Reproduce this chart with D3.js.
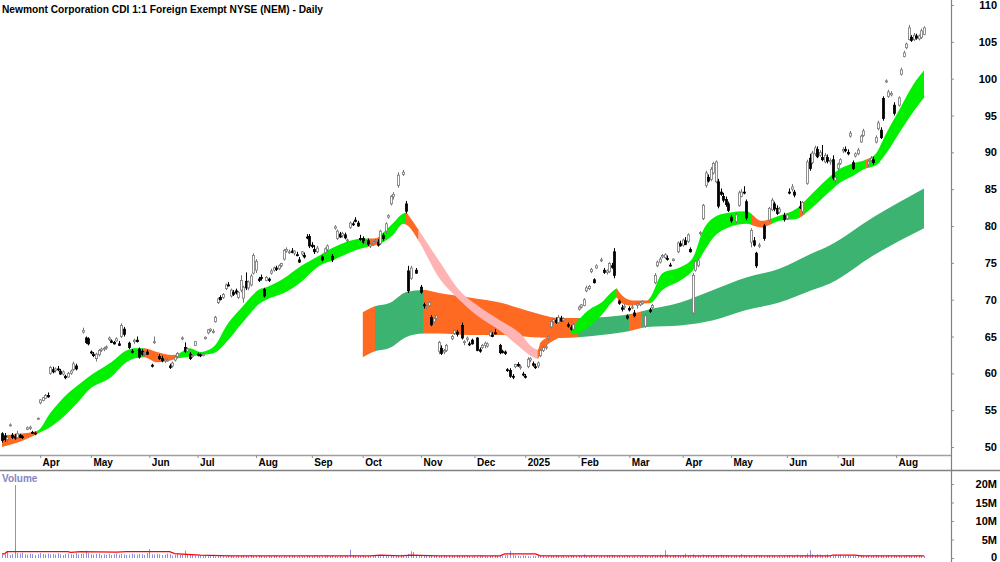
<!DOCTYPE html>
<html>
<head>
<meta charset="utf-8">
<script src="https://cdn.jsdelivr.net/npm/d3@7"></script>
<style>
  body { margin: 0; background: #fff; }
  svg { display: block; font-family: "Liberation Sans", Arial, sans-serif; }
</style>
</head>
<body>
<svg id="chart" width="1000" height="562"></svg>
<script>
const WIDTH = 1000;
const HEIGHT = 562;
const AXIS_X = 951;

const title = "Newmont Corporation CDI 1:1 Foreign Exempt NYSE (NEM) - Daily";

// month labels and the trading-day index where each month starts
const monthLabels = ["Apr", "May", "Jun", "Jul", "Aug", "Sep", "Oct", "Nov", "Dec", "2025", "Feb", "Mar", "Apr", "May", "Jun", "Jul", "Aug"];
const monthIdx = [15, 35, 58, 77, 100, 122, 142, 165, 186, 206, 227, 247, 268, 287, 309, 329, 352];

const priceTicks = [50, 55, 60, 65, 70, 75, 80, 85, 90, 95, 100, 105, 110];
const volTicks = [0, 5, 10, 15, 20];
const volTickLabels = ["0", "5M", "10M", "15M", "20M"];

// daily candles: [day, open, high, low, close]
const candles = [
  [0,51.8,52.0,50.6,50.9],[1,51.5,51.9,50.7,51.0],[2,51.0,51.4,50.6,51.3],[3,52.9,53.2,52.8,53.0],
  [4,51.6,51.9,51.1,51.3],[5,51.4,51.8,51.0,51.2],[6,51.3,52.2,51.1,51.8],[7,51.6,51.8,51.2,51.3],
  [8,51.4,51.6,51.1,51.3],[10,52.4,52.8,52.3,52.6],[11,52.5,52.9,52.3,52.7],[12,52.0,52.2,51.8,51.9],
  [13,51.9,52.1,51.6,51.8],[14,53.8,54.0,53.7,53.9],[15,56.0,56.5,55.8,56.4],[16,56.3,56.8,56.2,56.7],
  [17,56.6,57.2,56.5,57.0],[18,57.0,57.4,56.7,56.8],[19,60.0,61.0,59.8,60.8],[20,60.5,60.9,60.0,60.2],
  [21,60.4,60.8,60.1,60.6],[22,60.6,61.0,60.3,60.5],[23,60.3,60.6,59.8,59.9],[24,59.9,60.4,59.7,60.2],
  [25,59.6,59.8,59.2,59.4],[26,59.5,60.2,59.4,60.0],[27,60.0,60.5,59.8,60.3],[28,60.5,61.6,60.3,61.3],
  [29,61.0,61.3,60.4,60.6],[32,65.6,66.2,65.4,65.8],[33,64.8,65.0,64.0,64.2],[34,64.7,64.9,63.8,64.0],
  [35,62.9,63.1,62.6,62.8],[36,62.6,62.9,62.2,62.4],[37,62.0,62.8,61.6,62.6],[38,62.5,63.3,62.3,63.1],
  [39,63.1,63.5,62.9,63.3],[40,63.3,63.6,63.0,63.4],[41,63.5,63.8,63.2,63.6],[42,64.6,65.0,64.4,64.8],
  [43,64.4,64.6,64.1,64.2],[44,64.2,64.4,63.9,64.0],[45,64.4,64.9,64.3,64.7],[46,64.0,64.4,63.7,63.8],
  [47,65.0,66.8,64.8,66.5],[48,66.0,66.3,65.0,65.3],[50,64.1,64.3,63.3,63.5],[51,63.0,63.3,62.7,62.9],
  [52,64.3,64.7,64.0,64.5],[53,64.5,65.0,64.2,64.3],[54,63.3,63.5,62.0,62.2],[55,63.0,63.3,62.4,62.6],
  [56,62.7,63.0,62.3,62.8],[57,62.9,63.2,62.5,62.6],[59,61.1,61.3,60.8,61.0],[60,64.2,65.0,64.0,64.3],
  [62,62.3,62.6,61.8,62.0],[63,62.0,62.4,61.5,61.7],[64,61.7,62.1,61.4,61.9],[65,61.8,62.0,61.6,61.8],
  [66,61.0,61.3,60.6,60.8],[67,61.0,61.6,60.8,61.4],[68,61.8,62.4,61.6,62.2],[69,62.3,62.9,62.1,62.7],
  [71,64.7,65.0,64.5,64.8],[72,63.5,64.2,62.8,63.0],[73,63.0,63.5,62.8,63.3],[74,62.6,62.9,61.8,62.0],
  [75,62.3,62.6,62.1,62.4],[76,63.8,64.4,63.7,64.3],[77,62.6,62.8,62.3,62.5],[78,62.5,62.7,62.2,62.4],
  [79,62.4,62.7,62.3,62.6],[80,64.7,65.0,64.6,64.9],[81,65.5,66.0,65.3,65.9],[82,65.8,66.1,65.6,66.0],
  [83,65.6,66.0,65.4,65.7],[84,67.0,67.8,66.9,67.6],[85,69.6,70.3,69.4,70.1],[86,70.3,70.6,69.9,70.0],
  [87,70.3,70.9,70.1,70.7],[88,71.5,72.2,71.3,72.0],[89,72.0,72.4,71.8,71.9],[90,70.5,71.5,70.3,71.3],
  [91,71.0,71.3,70.5,70.7],[92,71.2,71.5,70.7,70.9],[93,70.3,71.2,70.1,71.0],[94,71.3,73.3,71.0,72.6],
  [95,70.2,71.9,69.6,71.7],[96,72.5,73.7,71.3,71.6],[97,71.6,72.6,71.3,72.4],[98,72.0,73.5,71.8,73.2],
  [99,73.6,76.3,73.4,76.0],[100,74.0,75.5,73.6,75.2],[101,72.8,73.1,72.4,72.6],[102,73.0,73.4,72.6,72.9],
  [103,71.4,71.6,70.3,70.5],[104,72.6,73.2,72.5,73.0],[105,72.8,73.0,72.4,72.6],[106,73.6,74.2,73.4,73.9],
  [107,74.0,74.5,73.8,74.3],[108,74.3,74.6,73.9,74.1],[109,74.2,74.8,74.0,74.6],[110,74.6,75.0,74.4,74.9],
  [111,75.5,76.9,75.3,76.7],[112,76.6,77.1,76.4,76.8],[113,76.4,76.8,76.2,76.5],[114,76.6,77.0,76.3,76.4],
  [115,76.3,76.7,76.0,76.6],[116,76.1,76.5,75.9,76.0],[117,75.4,75.8,75.0,75.1],[118,76.2,76.6,75.9,76.5],
  [119,76.0,76.4,75.6,75.8],[120,78.5,78.9,78.2,78.4],[121,78.6,78.9,77.0,77.3],[122,77.4,77.8,77.0,77.2],
  [123,76.8,77.4,76.2,76.5],[124,76.5,77.3,76.3,77.0],[126,75.8,76.0,75.2,75.4],[127,76.4,77.1,76.2,76.9],
  [128,76.8,77.5,76.5,77.3],[130,75.9,76.2,75.1,75.4],[131,79.7,80.1,79.5,79.9],[132,78.3,79.5,78.1,79.3],
  [133,78.9,79.2,78.4,78.5],[134,78.7,79.2,78.4,79.0],[135,78.8,79.1,78.2,78.4],[136,78.0,78.3,77.7,78.1],
  [137,79.8,80.6,79.6,80.4],[138,80.3,80.6,80.0,80.2],[139,80.8,81.2,80.5,80.6],[140,80.4,80.7,79.9,80.0],
  [141,78.3,78.8,78.0,78.2],[142,78.3,78.6,77.6,77.8],[143,77.8,78.0,77.5,77.9],[144,78.0,78.3,77.3,77.5],
  [145,77.3,77.7,77.0,77.5],[146,77.6,78.0,77.3,77.8],[147,78.0,78.3,77.7,78.1],[148,77.8,78.2,77.2,77.4],
  [149,77.6,79.5,77.4,79.3],[150,78.7,79.0,78.0,78.3],[151,79.3,80.5,79.0,80.3],[152,81.2,81.6,81.0,81.4],
  [153,83.0,84.2,82.8,84.0],[154,84.0,84.6,83.6,84.3],[156,85.5,87.3,85.2,86.9],[158,87.0,87.6,86.8,87.3],
  [159,83.0,83.4,81.7,82.0],[160,73.9,74.6,70.9,71.2],[161,72.9,74.6,72.7,74.3],[163,74.0,74.3,73.5,73.6],
  [165,71.7,72.0,70.8,71.0],[166,69.3,69.6,68.8,69.2],[167,69.0,69.3,68.7,69.1],[168,69.2,69.8,69.0,69.6],
  [169,67.6,67.9,66.4,66.6],[170,67.0,67.6,66.8,67.4],[171,67.5,67.9,67.2,67.8],[172,63.0,64.4,62.6,64.2],
  [173,63.4,63.8,62.5,62.7],[174,62.9,63.3,62.6,63.1],[175,63.1,64.0,62.9,63.8],[177,64.7,65.2,64.5,65.0],
  [178,65.4,66.0,65.2,65.8],[179,65.6,65.9,65.0,65.3],[181,66.5,66.9,64.6,64.8],[182,64.2,64.5,63.8,64.3],
  [183,64.6,65.0,64.3,64.8],[184,64.0,64.3,63.7,63.9],[185,64.5,64.7,63.9,64.0],[187,64.8,64.9,63.0,63.1],
  [188,63.2,63.5,62.8,63.0],[189,63.5,64.0,63.3,63.8],[190,63.8,64.3,63.4,64.1],[191,63.7,64.2,63.5,64.0],
  [192,65.1,65.8,65.0,65.6],[193,65.2,65.6,64.9,65.0],[194,65.5,66.0,65.3,65.4],[196,63.8,64.0,62.6,62.8],
  [197,63.0,63.2,62.7,62.8],[198,62.9,63.1,62.5,62.7],[199,60.5,60.7,60.2,60.4],[200,60.4,60.7,59.4,59.6],
  [201,59.6,59.9,59.2,59.5],[202,60.9,61.3,60.7,61.2],[203,61.2,61.5,60.9,61.0],[204,60.8,61.2,60.5,60.9],
  [205,59.9,60.2,59.6,59.8],[206,59.6,59.9,59.3,59.5],[207,60.9,62.2,60.7,61.9],[208,61.8,62.2,61.5,62.0],
  [209,61.3,61.6,60.9,61.1],[210,60.9,61.3,60.6,60.8],[211,61.0,61.6,60.7,61.4],[212,62.4,63.3,62.2,63.1],
  [213,63.1,63.7,62.9,63.5],[214,63.5,63.9,63.2,63.6],[215,64.8,65.2,64.5,65.0],[216,66.3,67.2,66.1,67.0],
  [217,67.0,67.5,66.8,67.3],[218,67.2,67.6,66.7,66.9],[219,66.9,67.9,66.8,67.6],[220,67.5,67.8,67.0,67.1],
  [221,67.2,67.6,66.9,67.4],[223,66.6,66.9,66.2,66.4],[224,66.2,66.5,65.8,66.0],[225,66.0,66.8,65.8,66.6],
  [227,68.7,69.2,68.5,69.0],[228,69.0,69.4,68.8,69.3],[229,69.2,70.2,69.1,70.0],[230,71.2,71.9,71.0,71.6],
  [231,71.5,72.0,71.3,71.8],[232,73.8,74.3,73.6,74.1],[233,72.7,72.9,72.2,72.3],[234,74.3,74.8,74.2,74.6],
  [236,75.3,75.7,75.1,75.4],[237,74.0,74.3,73.5,73.7],[238,73.7,74.1,73.4,73.9],[239,73.8,75.1,73.6,74.9],
  [240,74.6,75.0,74.2,74.4],[241,76.5,77.0,72.9,73.3],[243,69.8,70.0,69.3,69.5],[244,68.9,69.3,68.4,68.7],
  [245,69.0,69.4,68.6,69.1],[246,67.8,68.0,67.3,67.5],[247,68.8,69.1,68.4,68.6],[248,68.9,69.3,68.7,69.0],
  [249,68.2,68.6,67.6,67.8],[250,69.2,69.6,68.8,69.4],[251,69.3,69.8,69.1,69.6],[252,69.5,69.9,69.3,69.7],
  [253,66.4,68.0,66.2,67.8],[255,68.6,68.9,68.2,68.4],[256,68.9,69.4,68.7,69.2],[257,72.3,73.6,72.1,73.3],
  [258,74.6,75.3,74.4,75.1],[259,75.1,75.8,74.9,75.5],[260,75.8,76.2,75.6,76.0],[261,75.7,76.3,75.5,76.1],
  [262,75.6,76.0,75.3,75.5],[263,74.7,75.0,74.5,74.6],[264,75.3,75.6,75.2,75.5],[266,76.5,77.9,76.3,77.7],
  [267,77.6,78.0,77.2,77.3],[268,77.4,78.3,77.2,78.1],[269,78.0,78.5,77.4,77.5],[270,77.9,79.0,77.7,78.8],
  [271,76.8,77.1,76.4,76.5],[272,68.2,73.6,68.0,73.3],[273,74.0,75.5,73.8,75.2],[274,74.6,75.6,74.4,75.3],
  [275,79.0,79.3,78.7,79.1],[276,81.0,83.0,80.8,82.8],[277,85.5,87.5,85.2,87.2],[278,86.6,87.0,85.9,86.1],
  [279,86.3,88.0,86.1,87.7],[280,87.2,88.7,87.0,88.5],[281,86.0,88.9,85.8,88.7],[282,86.0,86.4,82.4,82.7],
  [283,84.6,85.1,84.1,84.3],[284,84.0,84.5,83.2,83.5],[285,83.6,84.0,82.6,82.9],[286,83.0,83.3,81.9,82.1],
  [287,81.2,81.5,80.4,80.7],[289,80.6,81.8,80.3,81.5],[290,82.8,84.8,82.6,84.5],[291,84.0,85.0,83.9,84.6],
  [292,84.6,85.4,84.3,84.5],[293,83.3,83.6,80.8,81.1],[295,77.8,79.7,77.1,79.4],[296,78.0,78.5,77.2,77.4],
  [297,76.3,76.5,74.3,74.6],[298,77.3,77.7,77.0,77.4],[300,80.0,80.3,78.0,78.3],[302,80.8,82.6,80.6,82.4],
  [303,82.2,83.8,82.0,83.5],[304,83.0,83.3,82.0,82.3],[305,82.4,82.8,81.5,81.7],[306,81.9,82.6,81.7,82.3],
  [308,81.4,81.8,80.6,80.9],[309,81.0,81.7,80.8,81.5],[310,84.6,85.1,84.3,84.5],[311,85.0,85.7,84.7,85.3],
  [312,84.6,84.9,83.9,84.2],[314,82.6,83.4,82.3,82.5],[315,82.0,83.4,81.6,83.2],[317,85.8,89.0,85.6,88.7],
  [318,89.2,89.8,87.5,87.8],[319,88.6,90.2,88.4,89.9],[320,89.8,90.9,89.5,90.6],[321,90.4,90.8,89.2,89.4],
  [322,89.6,90.3,89.4,90.0],[323,89.3,91.0,88.8,89.0],[324,88.7,89.9,88.5,89.6],[325,89.3,89.7,88.5,88.8],
  [326,88.7,89.2,88.3,88.9],[327,89.0,89.6,86.2,86.5],[328,86.2,86.9,85.8,86.6],[329,87.8,88.6,87.6,88.4],
  [330,88.5,89.2,88.3,89.0],[331,90.2,90.7,89.9,90.4],[332,90.4,90.8,90.0,90.2],[333,90.0,90.4,89.6,89.8],
  [334,92.2,92.9,92.0,92.6],[335,88.6,88.9,87.6,87.8],[336,89.5,90.0,89.3,89.8],[337,89.8,90.6,89.6,90.3],
  [338,91.4,92.4,91.3,92.2],[339,92.3,93.2,92.1,92.9],[341,88.4,89.0,88.0,88.7],[342,88.9,89.5,88.6,89.2],
  [343,89.0,89.4,88.3,88.6],[344,91.4,92.3,91.2,92.0],[345,93.2,94.3,93.0,94.0],[346,93.0,93.4,91.8,92.0],
  [347,97.3,97.6,94.3,94.6],[348,99.6,99.9,99.4,99.7],[349,97.6,98.5,97.4,98.2],[350,97.8,98.3,97.6,98.0],
  [351,96.4,96.8,95.0,95.3],[353,96.4,97.6,96.2,97.4],[354,100.6,101.5,100.4,101.2],[355,103.0,103.8,102.9,103.5],
  [356,104.2,104.9,104.0,104.7],[357,105.3,107.3,105.2,106.9],[358,105.6,105.9,105.0,105.2],[359,105.3,106.2,105.1,105.9],
  [360,105.8,106.1,105.3,105.5],[361,105.4,106.0,105.2,105.8],[362,105.6,106.8,105.4,106.5],[363,106.0,107.1,105.9,106.9]
];

// short-term ribbon edges: [day, upper, lower]
const shortRibbon = [
  [0,51.6,50.0],[7,51.8,50.7],[14,52.2,51.8],[19,54.6,52.7],[26,57.3,54.7],[30,58.4,56.1],[34,59.5,57.7],
  [43,61.5,59.5],[49,63.1,61.5],[52,63.4,62.0],[56,63.4,62.2],[61,62.9,61.5],[67,62.5,61.8],[69,62.6,62.0],
  [74,63.4,62.3],[78,62.9,62.5],[83,63.5,62.7],[89,66.8,64.5],[94,68.8,66.6],[102,71.5,69.6],[104,71.7,70.0],
  [111,72.9,70.9],[117,74.4,72.2],[125,76.0,74.6],[130,77.0,75.3],[137,78.0,76.4],[142,78.3,77.0],[147,78.3,77.4],
  [150,79.1,77.8],[154,80.4,78.8],[158,81.7,80.3],[159,81.8,80.2],[161,81.0,79.6],[164,79.5,78.0],[172,75.3,73.0],
  [180,71.3,70.0],[188,69.0,67.6],[196,67.2,65.8],[204,65.4,63.5],[209,63.5,62.2],[211,63.2,62.0],[212,64.2,62.7],
  [219,65.4,64.8],[223,65.8,65.4],[225,66.5,65.3],[231,68.6,66.3],[236,69.6,67.9],[241,71.3,70.0],[242,71.5,70.3],
  [243,71.0,69.7],[248,69.9,69.2],[254,69.9,69.5],[255,70.2,69.5],[260,73.6,71.3],[267,74.4,72.6],[272,75.7,74.0],
  [276,79.4,76.3],[280,81.1,78.4],[286,81.8,79.8],[293,82.0,80.3],[299,80.7,79.8],[306,81.4,80.7],[313,82.4,81.0],
  [319,84.4,82.5],[325,86.4,84.4],[330,87.8,85.9],[335,88.5,86.8],[340,89.0,87.8],[344,89.8,88.2],[348,92.5,89.8],
  [353,95.6,92.5],[359,99.3,95.6],[363,101.1,97.4]
];
// colour runs of the short ribbon: [from day, to day, state]
const shortStates = [
  [0,14,"down"],[14,56,"up"],[56,69,"down"],[69,144,"up"],[144,149,"down"],[149,159,"up"],[159,164,"down"],
  [164,211,"below"],[211,224,"down"],[224,242,"up"],[242,255,"down"],[255,295,"up"],[295,303,"down"],
  [303,314,"up"],[314,316,"down"],[316,340,"up"],[340,341.5,"down"],[341.5,363,"up"]
];

// long-term ribbon edges: [day, upper, lower]
const longRibbon = [
  [142,68.3,62.2],[146,69.0,62.9],[153,69.6,63.5],[159,71.0,64.9],[166,71.3,65.4],[172,70.9,65.4],[184,70.3,65.2],
  [196,69.6,65.2],[209,68.3,64.9],[220,67.5,64.8],[227,67.5,64.9],[236,67.6,65.2],[248,68.1,65.8],[254,68.6,66.3],
  [267,69.6,66.5],[280,71.3,67.2],[293,73.0,68.6],[306,74.2,69.6],[319,76.3,71.3],[326,77.4,72.2],[343,81.2,76.0],
  [363,85.1,79.7]
];
const longStates = [[142,147,"down"],[147,166,"up"],[166,227,"down"],[227,247,"up"],[247,252,"down"],[252,363,"up"]];

// daily volume in millions
const volume = [
  0.9,1.0,1.8,0.8,1.1,19.7,1.3,1.2,1.4,1.0,0.9,1.2,1.1,0.8,1.0,1.3,1.1,0.9,1.2,1.0,
  1.1,0.9,1.3,1.0,0.8,1.1,1.2,1.0,0.9,1.4,1.0,1.1,1.2,2.0,1.3,1.0,0.9,1.1,1.2,0.8,
  1.0,0.9,1.1,0.8,1.0,1.2,0.9,1.1,1.0,0.8,0.9,1.2,1.0,0.9,1.1,1.0,0.8,1.3,2.4,1.0,
  0.9,1.1,1.0,0.8,0.9,1.2,1.0,0.7,0.9,1.1,0.8,1.0,2.0,0.9,1.1,0.8,0.7,0.6,0.8,0.5,
  0.6,0.5,0.7,0.6,0.4,0.5,0.6,0.5,0.4,0.6,0.7,0.5,0.4,0.6,0.5,0.7,0.6,0.5,0.8,0.6,
  0.5,0.7,0.6,0.5,0.4,0.6,0.5,0.7,0.6,0.5,0.4,0.6,0.5,0.7,0.5,0.6,0.4,0.5,0.6,0.5,
  0.7,0.6,0.5,0.8,0.6,0.5,0.4,0.6,0.7,0.5,0.6,0.5,0.4,0.6,0.5,0.7,0.6,2.2,0.8,0.6,
  0.5,0.6,0.7,0.5,0.6,0.4,0.5,0.6,0.7,0.5,0.6,0.8,0.5,0.6,0.7,0.5,0.6,0.9,0.7,0.8,
  1.1,1.8,1.6,0.9,0.7,0.8,0.6,0.7,0.5,0.8,0.6,0.7,0.5,0.6,0.8,0.5,0.7,0.6,0.5,0.7,
  0.6,0.5,0.7,0.6,0.5,0.4,0.6,0.5,0.7,0.6,0.5,0.4,0.6,0.5,0.7,0.6,0.5,0.6,0.7,0.8,
  1.9,0.9,0.7,0.6,0.5,0.7,0.6,0.5,0.4,0.6,0.5,0.7,0.5,0.6,0.4,0.5,0.6,0.5,0.7,0.6,
  0.5,0.6,0.4,0.5,0.6,0.7,0.5,0.6,0.5,1.0,0.6,0.5,0.7,0.6,0.5,0.4,0.6,0.5,0.7,0.6,
  0.8,0.6,0.5,0.6,0.5,0.7,0.6,0.5,0.4,0.6,0.5,0.6,0.7,0.5,0.6,0.5,0.7,0.8,0.6,0.9,
  0.7,2.1,0.9,0.7,0.6,0.8,0.7,0.6,0.8,1.2,0.7,0.8,1.0,0.7,0.8,0.6,0.9,0.7,0.8,0.6,
  0.7,0.8,0.6,0.9,0.7,0.8,0.6,0.7,0.5,0.7,0.6,1.0,0.8,0.6,0.7,0.5,0.6,0.8,0.6,0.7,
  0.5,0.6,0.7,0.5,0.6,0.4,0.6,0.5,0.7,0.6,0.8,0.6,0.7,0.9,0.7,0.8,0.6,1.2,2.1,1.0,
  0.8,1.0,0.9,0.7,0.8,1.0,0.7,0.6,0.8,0.7,0.9,0.6,0.7,0.8,0.6,0.7,0.5,0.6,0.8,0.7,
  0.6,0.7,0.5,0.6,0.8,0.6,0.7,0.5,0.6,0.7,0.6,0.8,0.6,0.7,0.5,0.6,0.7,0.8,0.6,0.7,
  0.6,0.8,0.7,0.6
];
// volume average line: [day, millions]
const volumeAvg = [
  [0,1.1],[1,1.1],[2,1.7],[26,1.7],[27,1.5],[31,1.7],[45,1.6],[49,1.7],[66,1.7],[68,1.2],[78,0.8],[90,0.6],
  [117,0.55],[145,0.55],[149,0.75],[157,0.6],[161,0.8],[172,0.6],[196,0.6],[198,1.1],[210,1.1],[212,0.6],
  [235,0.55],[326,0.55],[327,0.8],[336,0.8],[338,0.55],[363,0.55]
];

const COLORS = { up: "#00f000", down: "#ff6a22", below: "#ffb3b3" };
const LONG_COLORS = { up: "#3cb371", down: "#ff6a22" };

const svg = d3.select("#chart");

const x = d3.scaleLinear([0, 363], [2, 924]);
const y = d3.scaleLinear([50, 110], [447, 5]);
const yVol = d3.scaleLinear([0, 20], [558, 484]);

// ribbons: one area per ribbon, clipped into colour runs
function drawRibbon(rows, states, colors, name) {
  const area = d3.area()
    .x(d => x(d[0]))
    .y0(d => y(d[2]))
    .y1(d => y(d[1]))
    .curve(d3.curveMonotoneX);
  const g = svg.append("g");
  states.forEach((s, k) => {
    const id = `${name}-clip-${k}`;
    svg.append("clipPath").attr("id", id)
      .append("rect")
      .attr("x", x(s[0]) - 0.3)
      .attr("width", x(s[1]) - x(s[0]) + 0.6)
      .attr("y", 0).attr("height", 455);
    g.append("path")
      .attr("d", area(rows))
      .attr("fill", colors[s[2]])
      .attr("clip-path", `url(#${id})`);
  });
}
drawRibbon(longRibbon, longStates, LONG_COLORS, "long");
drawRibbon(shortRibbon, shortStates, COLORS, "short");

// candles
const candleG = svg.append("g");
candles.forEach(d => {
  const [i, o, h, l, c] = d;
  const up = c >= o;
  const cx = Math.round(x(i)) + 0.5;
  candleG.append("line")
    .attr("x1", cx).attr("x2", cx)
    .attr("y1", y(h)).attr("y2", y(l))
    .attr("stroke", up ? "#777" : "#000")
    .attr("stroke-width", 1);
  const top = y(Math.max(o, c));
  const ht = Math.max(1, Math.abs(y(o) - y(c)));
  candleG.append("rect")
    .attr("x", cx - 1).attr("width", 2)
    .attr("y", top).attr("height", ht)
    .attr("fill", up ? "#fff" : "#000")
    .attr("stroke", up ? "#777" : "#000")
    .attr("stroke-width", 0.8);
});

// volume bars
svg.append("g").selectAll("line")
  .data(volume)
  .join("line")
  .attr("x1", (v, i) => Math.round(x(i)) + 0.5)
  .attr("x2", (v, i) => Math.round(x(i)) + 0.5)
  .attr("y1", yVol(0))
  .attr("y2", v => yVol(v))
  .attr("stroke", "#8c8ce0")
  .attr("stroke-width", 1);

svg.append("path")
  .attr("d", d3.line().x(d => x(d[0])).y(d => yVol(d[1]))(volumeAvg))
  .attr("fill", "none")
  .attr("stroke", "#ff0000")
  .attr("stroke-width", 1.2);

// frame lines
svg.append("line").attr("x1", 0).attr("x2", AXIS_X).attr("y1", 455.5).attr("y2", 455.5)
  .attr("stroke", "#a0a0a0").attr("stroke-width", 1.5);
svg.append("line").attr("x1", 0).attr("x2", WIDTH).attr("y1", 470.5).attr("y2", 470.5)
  .attr("stroke", "#808080").attr("stroke-width", 1.5);
svg.append("line").attr("x1", AXIS_X + 0.5).attr("x2", AXIS_X + 0.5).attr("y1", 0).attr("y2", HEIGHT)
  .attr("stroke", "#808080").attr("stroke-width", 1.2);

// month axis
const monthAxis = svg.append("g")
  .attr("transform", "translate(0,455)")
  .call(d3.axisBottom(x).tickValues(monthIdx).tickSize(3).tickFormat((d, k) => monthLabels[k]));
monthAxis.select(".domain").remove();
monthAxis.selectAll(".tick line").attr("stroke", "#909090");
monthAxis.selectAll(".tick text")
  .attr("text-anchor", "start").attr("x", 2).attr("y", 4)
  .attr("fill", "#000").style("font", "bold 10px 'Liberation Sans', Arial, sans-serif");

// price axis
const priceAxis = svg.append("g")
  .attr("transform", `translate(${AXIS_X},0)`)
  .call(d3.axisRight(y).tickValues(priceTicks).tickSize(3).tickFormat(d3.format("d")));
priceAxis.select(".domain").remove();
priceAxis.selectAll(".tick line").attr("stroke", "#909090");
priceAxis.selectAll(".tick text")
  .attr("text-anchor", "end").attr("x", 46)
  .attr("fill", "#000").style("font", "bold 11px 'Liberation Sans', Arial, sans-serif");

// volume axis
const volAxis = svg.append("g")
  .attr("transform", `translate(${AXIS_X},0)`)
  .call(d3.axisRight(yVol).tickValues(volTicks).tickSize(3).tickFormat((d, k) => volTickLabels[k]));
volAxis.select(".domain").remove();
volAxis.selectAll(".tick line").attr("stroke", "#909090");
volAxis.selectAll(".tick text")
  .attr("text-anchor", "end").attr("x", 46)
  .attr("dy", d => d === 0 ? "0.2em" : "0.32em")
  .attr("fill", "#000").style("font", "bold 11px 'Liberation Sans', Arial, sans-serif");

// labels
svg.append("text")
  .attr("x", 2).attr("y", 12.5)
  .attr("textLength", 321).attr("lengthAdjust", "spacingAndGlyphs")
  .style("font", "bold 10.5px 'Liberation Sans', Arial, sans-serif")
  .attr("fill", "#000")
  .text(title);

svg.append("text")
  .attr("x", 2).attr("y", 482)
  .style("font", "bold 10px 'Liberation Sans', Arial, sans-serif")
  .attr("fill", "#8484c4")
  .text("Volume");
</script>
</body>
</html>
